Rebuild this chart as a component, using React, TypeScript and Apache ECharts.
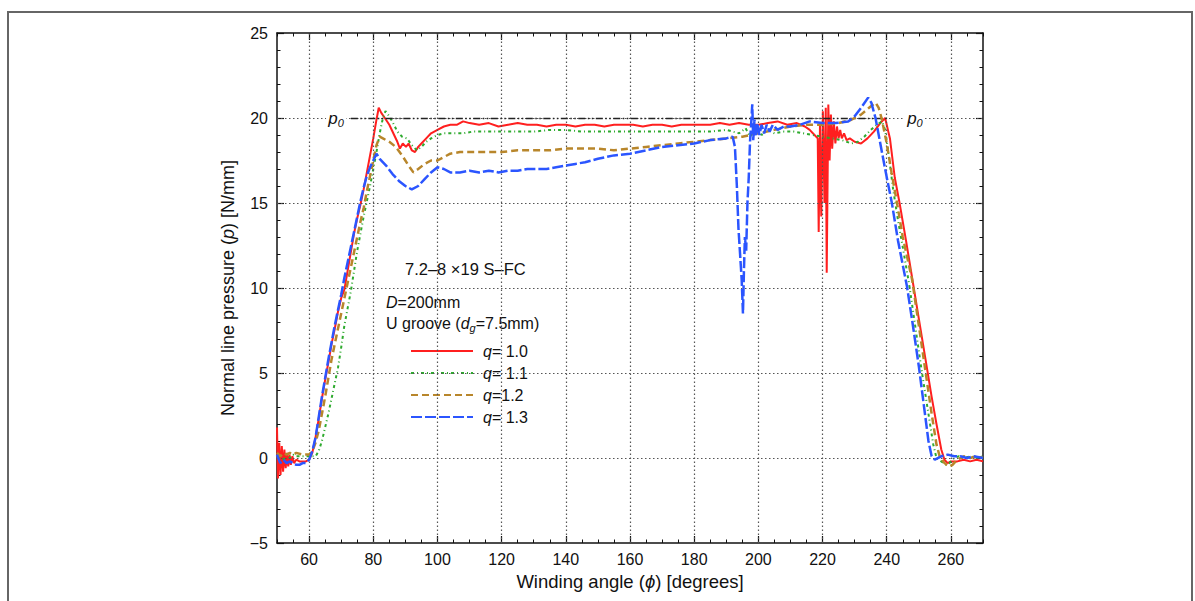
import React, { useEffect, useRef } from 'react';
import * as echarts from 'echarts';

const FONT = '"Liberation Sans", Arial, Helvetica, sans-serif';

const seriesNames = ['q= 1.0', 'q= 1.1', 'q=1.2', 'q= 1.3'];
const seriesColors = ['#ff1f1f', '#2eaa2e', '#b8862b', '#2b55ff'];

const xMajorTicks = [60, 80, 100, 120, 140, 160, 180, 200, 220, 240, 260];
const yGridValues = [0, 5, 10, 15, 20];
const p0Value = 20;
const p0LineRange = [73, 240];
const p0LabelX = [68.4, 248.8];

const q10: [number, number][] = [
  [50, 1.8], [50.3, -1.2], [50.7, 0.9], [51.1, -1.0], [51.5, 0.7], [51.9, -0.8], [52.3, 0.5], [52.7, -0.6],
  [53.1, 0.3], [53.5, -0.5], [53.9, 0.2], [54.3, -0.4], [54.8, 0.1], [55.3, -0.3], [56, -0.1], [57, -0.2],
  [58, -0.2], [59, -0.2], [60, -0.1], [61, 0.3], [62, 1.2], [63, 2.3], [64, 3.5], [65, 4.6], [66, 5.6],
  [67, 6.7], [68, 7.6], [69, 8.6], [70, 9.4], [71, 9.9], [72, 11.0], [73, 12.1], [74, 13.2], [75, 14.1],
  [76, 14.9], [77, 15.8], [78, 16.8], [79, 17.8], [80, 18.8], [81, 19.9], [81.7, 20.6], [82.5, 20.3],
  [83.6, 20.0], [85, 19.6], [86.5, 19.0], [87.5, 18.6], [88.3, 18.2], [89.2, 18.5], [90.2, 18.3], [91, 18.5],
  [92, 18.1], [93, 18.0], [94, 18.3], [95, 18.5], [96.5, 18.8], [98, 19.1], [100, 19.3], [102, 19.5],
  [104, 19.6], [106, 19.6], [108, 19.8], [110, 19.7], [113, 19.6], [116, 19.7], [119, 19.5], [122, 19.6],
  [125, 19.7], [128, 19.6], [131, 19.6], [134, 19.5], [137, 19.6], [140, 19.6], [143, 19.5], [146, 19.6],
  [149, 19.6], [152, 19.5], [155, 19.6], [158, 19.6], [161, 19.6], [164, 19.5], [167, 19.6], [170, 19.6],
  [173, 19.5], [176, 19.6], [179, 19.6], [182, 19.6], [185, 19.6], [188, 19.7], [191, 19.6], [194, 19.7],
  [197, 19.6], [200, 19.6], [203, 19.7], [206, 19.8], [209, 19.6], [212, 19.7], [214.5, 19.5], [216, 19.3],
  [217.5, 19.0], [218.5, 18.8], [218.8, 13.3], [219.2, 19.6], [219.6, 14.2], [220.1, 20.4], [220.6, 15.0],
  [221.0, 20.6], [221.3, 10.9], [221.8, 20.8], [222.2, 17.5], [222.6, 20.2], [223.0, 18.2], [223.5, 19.8],
  [224, 18.5], [224.5, 19.5], [225, 18.8], [225.5, 19.3], [226, 18.8], [226.7, 19.1], [227.5, 18.7],
  [228.5, 18.8], [230, 18.6], [232, 18.5], [234, 18.8], [236, 19.2], [238, 19.7], [239.5, 20.0], [241, 18.8],
  [242.5, 16.5], [244, 15.0], [246, 12.8], [248, 10.5], [250, 8.2], [252, 5.9], [254, 3.6], [255.5, 2.0],
  [257, 0.5], [258, -0.1], [259, -0.3], [260, -0.2], [262, -0.2], [264, -0.1], [266, -0.2], [268, -0.1], [270, -0.2]
];

const q11: [number, number][] = [
  [50, 0.0], [51, 0.2], [52, -0.1], [53, 0.2], [54, 0.0], [55, 0.2], [56, 0.1], [58, 0.1], [60, 0.1],
  [62, 0.1], [63, 0.4], [64, 1.0], [65, 1.8], [66, 2.6], [67, 3.5], [68, 4.4], [69, 5.3], [70, 6.5],
  [71, 7.8], [72, 8.8], [73, 9.8], [74, 11.0], [75, 12.2], [76, 13.2], [77, 14.2], [78, 15.1], [79, 16.0],
  [80, 17.0], [81, 18.0], [82, 19.1], [83, 20.0], [83.8, 20.4], [85, 20.1], [86.2, 19.7], [87.5, 19.2],
  [89, 18.9], [90.5, 18.8], [92, 18.4], [93.6, 18.1], [95, 18.3], [96.5, 18.6], [98, 18.8], [100, 19.0],
  [102, 19.1], [105, 19.1], [108, 19.1], [111, 19.2], [115, 19.2], [120, 19.2], [125, 19.2], [130, 19.2],
  [135, 19.3], [140, 19.3], [145, 19.2], [150, 19.2], [155, 19.2], [160, 19.2], [165, 19.2], [170, 19.2],
  [175, 19.2], [180, 19.2], [185, 19.2], [190, 19.3], [194, 19.1], [196, 19.4], [197.5, 18.9], [199, 19.5],
  [201, 19.0], [203, 19.3], [205, 19.1], [208, 19.2], [211, 19.2], [214, 19.1], [217, 19.0], [220, 18.9],
  [223, 18.8], [226, 18.7], [229, 18.5], [231, 18.6], [233, 18.9], [235, 19.3], [237, 19.6], [238.5, 19.8],
  [239.5, 19.3], [240.5, 18.0], [242, 15.8], [243.5, 14.0], [245, 12.4], [247, 10.2], [249, 7.6], [251, 5.0],
  [253, 2.6], [254.5, 0.8], [255.5, 0.0], [257, -0.2], [258.5, -0.4], [259.5, -0.3], [261, 0.0], [262.5, 0.1],
  [264, 0.0], [266, 0.1], [268, 0.0], [270, 0.1]
];

const q12: [number, number][] = [
  [50, 0.3], [51, 0.1], [52, 0.3], [53, 0.2], [54, 0.3], [55, 0.2], [56, 0.3], [58, 0.2], [60, 0.2],
  [61, 0.4], [62, 0.9], [63, 1.6], [64, 2.6], [65, 3.6], [66, 4.7], [67, 5.8], [68, 6.7], [69, 7.6],
  [70, 8.5], [71, 9.4], [72, 10.3], [73, 11.2], [74, 12.1], [75, 13.0], [76, 13.9], [77, 14.7], [78, 15.7],
  [79, 16.6], [80, 17.5], [81, 18.4], [82, 18.9], [83, 18.8], [85, 18.6], [87, 18.3], [89, 17.8], [91, 17.2],
  [92.5, 16.8], [94, 17.0], [96, 17.3], [98, 17.5], [100, 17.5], [102, 17.7], [104, 17.9], [107, 18.0],
  [110, 18.0], [115, 18.0], [120, 18.0], [125, 18.1], [130, 18.1], [135, 18.1], [140, 18.2], [145, 18.2],
  [150, 18.2], [155, 18.1], [160, 18.2], [165, 18.3], [170, 18.4], [175, 18.5], [180, 18.6], [185, 18.7],
  [190, 18.8], [195, 18.9], [200, 19.1], [205, 19.3], [210, 19.5], [215, 19.6], [220, 19.6], [225, 19.7],
  [229, 19.9], [232, 20.2], [234.5, 20.6], [236.5, 20.9], [237.5, 20.6], [238.5, 19.9], [240, 18.5],
  [241.5, 16.8], [243.2, 15.0], [245, 13.0], [247.9, 10.5], [250, 7.8], [252, 5.2], [254, 2.6], [255.5, 0.8],
  [256.5, 0.1], [258, -0.3], [259.5, -0.5], [260.5, -0.4], [262, -0.1], [264, 0.1], [266, 0.0], [268, 0.1], [270, 0.0]
];

const q13: [number, number][] = [
  [50, 0.2], [51, -0.3], [52, -0.1], [53, -0.3], [54, -0.2], [55, -0.3], [56, -0.4], [57, -0.4], [58, -0.3],
  [59, -0.3], [60, -0.1], [61, 0.4], [62, 1.2], [63, 2.4], [64, 3.6], [65, 4.7], [66, 5.8], [67, 6.8],
  [68, 7.8], [69, 8.7], [70, 9.6], [71, 10.6], [72, 11.5], [73, 12.4], [74, 13.3], [75, 14.2], [76, 15.1],
  [77, 15.9], [78, 16.6], [79, 17.1], [80, 17.5], [81, 17.9], [82, 17.6], [84, 17.2], [86, 16.7], [88, 16.3],
  [90, 16.0], [92, 15.8], [94, 16.0], [96, 16.4], [98, 16.8], [100, 17.1], [102, 17.0], [104, 16.8],
  [107, 16.8], [110, 16.9], [113, 16.8], [116, 16.9], [119, 16.8], [122, 16.9], [125, 16.9], [128, 17.0],
  [131, 17.0], [134, 17.0], [137, 17.1], [140, 17.2], [143, 17.3], [146, 17.4], [150, 17.6], [155, 17.8],
  [160, 17.9], [165, 18.1], [170, 18.3], [175, 18.4], [180, 18.5], [185, 18.7], [190, 18.8], [192, 18.9],
  [192.7, 18.3], [193.3, 16.0], [193.8, 13.5], [194.3, 12.0], [194.8, 10.5], [195.2, 8.5], [195.5, 11.0],
  [195.8, 13.0], [196.2, 12.2], [196.6, 15.0], [197, 16.5], [197.4, 18.6], [197.8, 19.8], [198.1, 20.8],
  [198.4, 18.7], [198.8, 19.9], [199.2, 18.9], [199.7, 19.7], [200.3, 19.0], [201, 19.6], [201.8, 19.1],
  [202.6, 19.6], [203.5, 19.2], [204.5, 19.6], [206, 19.3], [208, 19.5], [210, 19.5], [213, 19.6], [216, 19.8],
  [220, 19.7], [224, 19.7], [228, 19.8], [230, 20.1], [232, 20.6], [234.2, 21.2], [235.2, 20.9], [236.5, 20.0],
  [238, 18.5], [239.5, 17.0], [241.6, 15.0], [243.5, 12.8], [246.3, 10.1], [248, 8.0], [250, 5.4], [251.5, 3.2],
  [253, 1.0], [254, 0.1], [255, -0.1], [257, 0.1], [259, 0.2], [261, 0.1], [263, 0.1], [265, 0.0], [267, 0.1], [270, 0.0]
];

const seriesData = [q10, q11, q12, q13];
const seriesDash: any[] = ['solid', [3, 3, 1, 3], [7, 4], [11, 3]];
const seriesWidth = [2, 2, 2.5, 2.5];

const X_MIN = 50, X_MAX = 270, Y_MIN = -5, Y_MAX = 25;
const INK = '#111';
const gridLineStyle = { color: '#555', width: 1.2, type: [1.5, 2.5] as any };

function buildOption(): any {
  const axisLine = { show: true, onZero: false, lineStyle: { color: INK, width: 1.5 } };
  const xBase = { type: 'value', min: X_MIN, max: X_MAX, splitLine: { show: false } };
  const yBase = { type: 'value', min: Y_MIN, max: Y_MAX, interval: 5 };
  const majorTick = { show: true, inside: true, length: 7, lineStyle: { color: INK, width: 1.2 } };
  const minorTickX = { show: true, inside: true, length: 3.5, lineStyle: { color: INK, width: 1 } };

  return {
    animation: false,
    backgroundColor: '#fff',
    grid: { left: 277, top: 33, width: 706, height: 510, outerBoundsMode: 'none', containLabel: false },
    legend: {
      orient: 'vertical',
      left: 410,
      top: 343,
      padding: 0,
      itemWidth: 62,
      itemHeight: 16,
      itemGap: 6,
      selectedMode: false,
      itemStyle: { opacity: 0 },
      data: seriesNames,
      formatter: (name: string) => '{g|}{i|q}' + name.slice(1),
      textStyle: {
        fontSize: 16, color: INK, fontFamily: FONT, lineHeight: 16,
        rich: {
          g: { width: 5, fontSize: 16, lineHeight: 16 },
          i: { fontStyle: 'italic', fontSize: 16, fontFamily: FONT, color: INK, lineHeight: 16 }
        }
      }
    },
    xAxis: [
      {
        ...xBase, position: 'bottom',
        axisLine,
        axisTick: { ...majorTick, customValues: xMajorTicks },
        axisLabel: { customValues: xMajorTicks, margin: 8, fontSize: 16, color: INK, fontFamily: FONT },
        name: 'Winding angle ({i|ϕ}) [degrees]',
        nameLocation: 'middle',
        nameGap: 28,
        nameTextStyle: {
          fontSize: 18.5, color: INK, fontFamily: FONT,
          rich: { i: { fontStyle: 'italic', fontSize: 18.5, fontFamily: FONT, color: INK } }
        }
      },
      {
        ...xBase, position: 'bottom', interval: 5,
        axisLine: { show: false, onZero: false },
        axisTick: minorTickX,
        axisLabel: { show: false }
      },
      {
        ...xBase, position: 'top',
        axisLine,
        axisTick: { ...majorTick, customValues: xMajorTicks },
        axisLabel: { show: false }
      },
      {
        ...xBase, position: 'top', interval: 5,
        axisLine: { show: false, onZero: false },
        axisTick: minorTickX,
        axisLabel: { show: false }
      }
    ],
    yAxis: [
      {
        ...yBase, position: 'left',
        axisLine,
        axisTick: majorTick,
        minorTick: { show: true, splitNumber: 5, length: 3.5, lineStyle: { color: INK, width: 1 } },
        axisLabel: {
          margin: 9, fontSize: 16, color: INK, fontFamily: FONT,
          formatter: (v: number) => (v < 0 ? '−' + Math.abs(v) : String(v))
        },
        splitLine: { show: false },
        name: 'Normal line pressure ({i|p}) [N/mm]',
        nameLocation: 'middle',
        nameGap: 40,
        nameTextStyle: {
          fontSize: 18, color: INK, fontFamily: FONT,
          rich: { i: { fontStyle: 'italic', fontSize: 18, fontFamily: FONT, color: INK } }
        }
      },
      {
        ...yBase, position: 'right',
        axisLine,
        axisTick: majorTick,
        minorTick: { show: true, splitNumber: 5, length: 3.5, lineStyle: { color: INK, width: 1 } },
        axisLabel: { show: false },
        splitLine: { show: false }
      }
    ],
    graphic: [
      {
        type: 'rect', silent: true, z: -10,
        shape: { x: 8, y: 12, width: 1184, height: 700 },
        style: { fill: 'none', stroke: '#666', lineWidth: 2 }
      },
      {
        type: 'text', x: 405, y: 269, silent: true,
        style: { text: '7.2–8 ×19 S–FC', fontSize: 16.5, fontFamily: FONT, fill: INK, verticalAlign: 'middle' }
      },
      {
        type: 'text', x: 386, y: 302, silent: true,
        style: {
          text: '{i|D}=200mm', fontSize: 16, fontFamily: FONT, fill: INK, verticalAlign: 'middle',
          rich: { i: { fontStyle: 'italic', fontSize: 16, fontFamily: FONT, fill: INK } }
        }
      },
      {
        type: 'text', x: 386, y: 323, silent: true,
        style: {
          text: 'U groove ({i|d}{s|g}=7.5mm)', fontSize: 16, fontFamily: FONT, fill: INK, verticalAlign: 'middle',
          lineHeight: 20,
          rich: {
            i: { fontStyle: 'italic', fontSize: 16, fontFamily: FONT, fill: INK, lineHeight: 20 },
            s: { fontStyle: 'italic', fontSize: 11, fontFamily: FONT, fill: INK, lineHeight: 11, verticalAlign: 'bottom' }
          }
        }
      }
    ],
    series: [
      {
        type: 'line', name: '__grid', data: [], z: 1, silent: true,
        markLine: {
          silent: true, symbol: ['none', 'none'], label: { show: false },
          lineStyle: gridLineStyle,
          data: [
            ...xMajorTicks.map((v) => ({ xAxis: v })),
            ...yGridValues.map((v) => ({ yAxis: v }))
          ]
        }
      },
      {
        type: 'line', name: '__p0', data: [], z: 2, silent: true,
        markLine: {
          silent: true, symbol: ['none', 'none'], label: { show: false },
          lineStyle: { color: '#222', width: 1.4, type: [7, 2.5, 1.5, 2.5, 1.5, 2.5] },
          data: [[{ coord: [p0LineRange[0], p0Value] }, { coord: [p0LineRange[1], p0Value] }]]
        },
        markPoint: {
          silent: true,
          symbol: 'rect',
          symbolSize: [20, 16],
          itemStyle: { color: '#fff' },
          label: {
            show: true, position: 'inside', color: INK,
            formatter: '{p|p}{s|0}',
            rich: {
              p: { fontStyle: 'italic', fontSize: 17, fontFamily: FONT, color: INK, lineHeight: 20 },
              s: { fontStyle: 'italic', fontSize: 11, fontFamily: FONT, color: INK, lineHeight: 11, verticalAlign: 'bottom' }
            }
          },
          data: p0LabelX.map((x) => ({ coord: [x, p0Value] }))
        }
      },
      ...seriesNames.map((name, i) => ({
        type: 'line',
        name,
        data: seriesData[i],
        z: 3 + i,
        symbol: 'none',
        showSymbol: false,
        clip: true,
        color: seriesColors[i],
        lineStyle: { color: seriesColors[i], width: seriesWidth[i], type: seriesDash[i] }
      }))
    ]
  };
}

export default function App() {
  const ref = useRef<HTMLDivElement>(null);
  useEffect(() => {
    if (!ref.current) return;
    const chart = echarts.init(ref.current, undefined, { renderer: 'svg' });
    chart.setOption(buildOption());
    return () => chart.dispose();
  }, []);
  return (
    <div
      ref={ref}
      style={{ position: 'fixed', left: 0, top: 0, width: 1195, height: 601, background: '#fff' }}
    />
  );
}
